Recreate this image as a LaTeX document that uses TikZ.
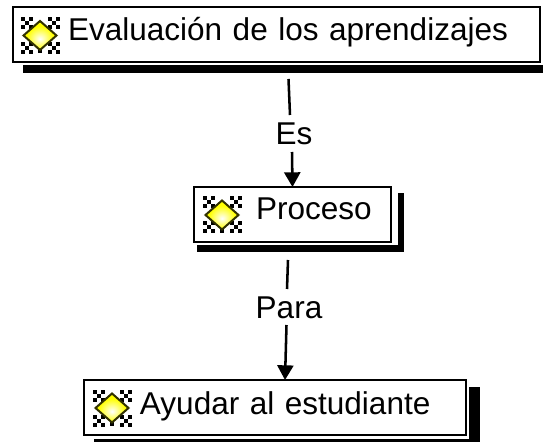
\documentclass[tikz,border=0pt]{standalone}
\usepackage{fontspec}
\setmainfont{Liberation Sans}
\usetikzlibrary{arrows.meta}
\definecolor{iconyellow}{RGB}{255,255,0}
\definecolor{iconrim}{RGB}{50,50,0}
\pgfdeclareradialshading{iconglow}{\pgfpoint{0bp}{-6bp}}{color(0bp)=(white);color(9bp)=(white!55!iconyellow);color(20bp)=(iconyellow);color(50bp)=(iconyellow)}
\tikzset{
  x=0.75pt,y=-0.75pt,
  box/.style={draw=black,line width=2pt,fill=white,inner sep=0pt,outer sep=0pt,align=left,font=\fontsize{23.65}{26}\selectfont},
  shadowbar/.style={fill=black,draw=none},
  lab/.style={inner sep=0pt,outer sep=0pt,font=\fontsize{23.65}{26}\selectfont},
  seg/.style={line width=1.9pt,draw=black},
  arr/.style={seg,-{Triangle[width=12pt,length=11pt]}},
  bugicon/.pic={
    \foreach \sx in {-1,1}{\foreach \sy in {-1,1}{
      \foreach \i/\j in {-4/-4,4/-4,0/0,-4/4,4/4}{
        \fill[black] ({\sx*13.5+\i-2},{\sy*12.5+\j-2}) rectangle +(4,4);
      }
    }}
    \fill[black] (-2,13) rectangle (2,18);
    \path[draw=iconrim,line width=1.5pt,shading=iconglow]
      (-16.5,0) -- (0,-14.5) -- (16.5,0) -- (0,14.5) -- cycle;
  }
}
\begin{document}
\begin{tikzpicture}
\useasboundingbox (0,0) rectangle (543,442);
\fill[white] (0,0) rectangle (543,442);
% shadows
\fill[shadowbar] (23,65) rectangle (543,73);
\fill[shadowbar] (197,245) rectangle (404,252);
\fill[shadowbar] (398,193) rectangle (404,252);
\fill[shadowbar] (94,439) rectangle (480,442);
\fill[shadowbar] (469,387) rectangle (480,442);
% boxes
\node[box,text width=395.25pt,text height=25.5pt,text depth=15.75pt] (ev) at (276.5,34.5) {\hspace*{41.25pt}Evaluación de los aprendizajes};
\node[box,text width=147.75pt,text height=24.75pt,text depth=16.5pt] (pr) at (292.5,214.5) {\hspace*{46.5pt}Proceso};
\node[box,text width=286.5pt,text height=25.5pt,text depth=15.75pt] (ay) at (275,407.5) {\hspace*{42pt}Ayudar al estudiante};
% icons
\pic at (40,35.5) {bugicon};
\pic at (222,215) {bugicon};
\pic at (112,408) {bugicon};
% labels
\node[lab,text height=22.5pt,text depth=5.25pt] (es) at (294,133.5) {Es};
\node[lab,text height=22.5pt,text depth=5.25pt] (para) at (289,307) {Para};
% connectors
\coordinate (e1) at (288.5,79);
\coordinate (e2) at (290,115);
\coordinate (e3) at (292,152);
\coordinate (p1) at (288,260);
\coordinate (p2) at (287,289);
\coordinate (p3) at (286.5,325);
\coordinate (p4) at (285,380);
\draw[seg] (e1) -- (e2);
\draw[arr] (e3) -- (pr.north);
\draw[seg] (p1) -- (p2);
\draw[arr] (p3) -- (p4);
\end{tikzpicture}
\end{document}
